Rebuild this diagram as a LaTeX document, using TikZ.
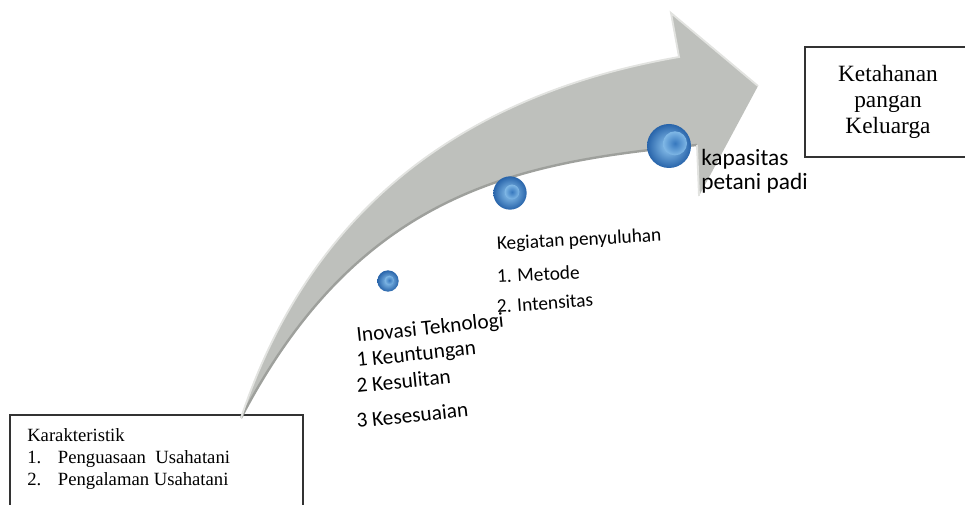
\documentclass[tikz,border=0pt]{standalone}
\usepackage{fontspec}
\setmainfont{Liberation Serif}
\newfontfamily\carlito{Carlito}
\definecolor{arrowgray}{RGB}{190,192,188}
\definecolor{bevelgray}{RGB}{226,227,224}
\definecolor{shadegray}{RGB}{158,160,156}
\definecolor{beadlight}{RGB}{150,205,245}
\definecolor{beaddark}{RGB}{40,100,170}
\definecolor{beadcore}{RGB}{55,120,190}
\tikzset{
  box/.style={draw=black!80, line width=0.8pt},
  boxtext/.style={anchor=base west, inner sep=0pt, font=\fontsize{14}{16}\selectfont},
  lbl/.style={font=\carlito\fontsize{16}{18}\selectfont, anchor=base west, inner sep=0pt, rotate=6},
  sublbl/.style={font=\carlito\fontsize{14.5}{16}\selectfont, anchor=base west, inner sep=0pt},
  biglbl/.style={font=\carlito\fontsize{17.5}{20}\selectfont, anchor=base west, inner sep=0pt},
  bead/.style={circle, inner sep=0pt, inner color=beadlight, outer color=beaddark},
  beadcore/.style={inner color=beadcore, outer color=beadlight!80!beaddark},
}
\begin{document}
\begin{tikzpicture}[x=0.75pt, y=-0.75pt]
\useasboundingbox (0,0) rectangle (965,505);
\clip (0,0) rectangle (965,505);

% boxes at both ends
\draw[box] (10,415) rectangle (303,525);
\node[boxtext] (karak) at (27,442) {Karakteristik};
\node[boxtext] (karak1) at (27,464) {\makebox[23pt][l]{1.}Penguasaan\ \ Usahatani};
\node[boxtext] (karak2) at (27,486) {\makebox[23pt][l]{2.}Pengalaman Usahatani};
\draw[box] (805,47) rectangle (975,157);
\node[align=center, inner sep=0pt, font=\fontsize{17.5}{19.5}\selectfont] (ketahanan) at (888,102) {Ketahanan\\pangan\\Keluarga};

% curved arrow
\coordinate (tail) at (241,418);
\coordinate (necktop) at (679,57);
\coordinate (headtop) at (671,13);
\coordinate (tip) at (758,86);
\coordinate (headbot) at (699,196);
\coordinate (neckbot) at (697,145);
\fill[arrowgray] (tail) .. controls (320,180) and (500,88) .. (necktop) -- (headtop) -- (tip) -- (headbot) -- (neckbot) .. controls (520,162) and (360,190) .. (tail) -- cycle;
\draw[shadegray, line width=1.8pt] (neckbot) .. controls (520,162) and (360,190) .. (tail);
\draw[bevelgray, line width=1.4pt] (tail) .. controls (320,180) and (500,88) .. (necktop) -- (headtop) -- (tip);
\draw[bevelgray, line width=1.4pt] (headbot) -- (neckbot);

% beads
\node[bead, minimum size=16pt] (bead1) at (388,281) {};
\node[bead, minimum size=25pt] (bead2) at (510,193) {};
\node[bead, minimum size=33pt] (bead3) at (669,146) {};
\foreach \n/\dx/\dy/\r in {1/1pt/0.5pt/3.5pt, 2/1.5pt/0.8pt/5.5pt, 3/4.5pt/2pt/9pt}
  \shade[beadcore] ([xshift=\dx, yshift=\dy]bead\n.center) circle (\r);

% labels
\node[lbl] (inovasi) at (357,342) {Inovasi Teknologi};
\node[lbl] (keuntungan) at (357,367) {1 Keuntungan};
\node[lbl] (kesulitan) at (357,393) {2 Kesulitan};
\node[lbl] (kesesuaian) at (357,428) {3 Kesesuaian};
\node[sublbl, rotate=3] (kegiatan) at (497,250) {Kegiatan penyuluhan};
\node[sublbl, rotate=3] (metode) at (497,283) {1. Metode};
\node[sublbl, rotate=4] (intensitas) at (497,313) {2. Intensitas};
\node[biglbl] (kapasitas) at (701,166) {kapasitas};
\node[biglbl] (petani) at (701,190) {petani padi};
\end{tikzpicture}
\end{document}
